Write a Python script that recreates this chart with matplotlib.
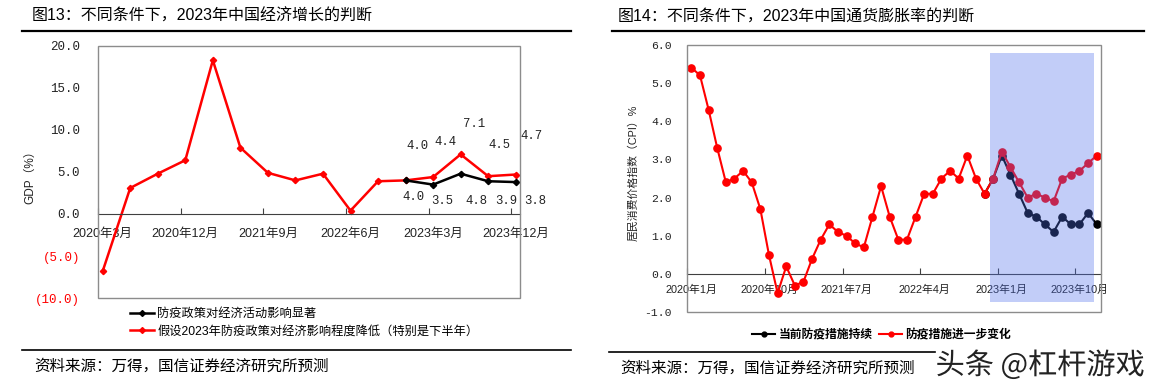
import matplotlib
matplotlib.use('Agg')
import matplotlib.pyplot as plt
import numpy as np
from matplotlib.lines import Line2D
from matplotlib.patches import Rectangle
import matplotlib.patheffects as pe

nan = np.nan

# ---------------- Data: Figure 13 (GDP, quarterly) ----------------
gdp_quarters = ['2020年3月', '2020年6月', '2020年9月', '2020年12月',
                '2021年3月', '2021年6月', '2021年9月', '2021年12月',
                '2022年3月', '2022年6月', '2022年9月', '2022年12月',
                '2023年3月', '2023年6月', '2023年9月', '2023年12月']
gdp_lowered = [-6.8, 3.1, 4.8, 6.4, 18.3, 7.9, 4.9, 4.0,
               4.8, 0.4, 3.9, 4.0, 4.4, 7.1, 4.5, 4.7]
gdp_significant = [nan, nan, nan, nan, nan, nan, nan, nan,
                   nan, nan, nan, 4.0, 3.5, 4.8, 3.9, 3.8]
gdp_tick_labels = ['2020年3月', '2020年12月', '2021年9月', '2022年6月', '2023年3月', '2023年12月']
gdp_yticks = [-10, -5, 0, 5, 10, 15, 20]
gdp_series_names = ['防疫政策对经济活动影响显著', '假设2023年防疫政策对经济影响程度降低（特别是下半年）']

# ---------------- Data: Figure 14 (CPI, monthly) ----------------
cpi_months = [f'{y}年{m}月' for y in (2020, 2021, 2022, 2023) for m in range(1, 13)]
cpi_change = [5.4, 5.2, 4.3, 3.3, 2.4, 2.5, 2.7, 2.4, 1.7, 0.5, -0.5, 0.2,
              -0.3, -0.2, 0.4, 0.9, 1.3, 1.1, 1.0, 0.8, 0.7, 1.5, 2.3, 1.5,
              0.9, 0.9, 1.5, 2.1, 2.1, 2.5, 2.7, 2.5, 3.1, 2.5, 2.1, 2.5,
              3.2, 2.8, 2.4, 2.0, 2.1, 2.0, 1.9, 2.5, 2.6, 2.7, 2.9, 3.1]
cpi_current = [nan] * 34 + [2.1, 2.5,
                            3.1, 2.6, 2.1, 1.6, 1.5, 1.3, 1.1, 1.5, 1.3, 1.3, 1.6, 1.3]
cpi_tick_labels = ['2020年1月', '2020年10月', '2021年7月', '2022年4月', '2023年1月', '2023年10月']
cpi_yticks = [-1, 0, 1, 2, 3, 4, 5, 6]
cpi_series_names = ['当前防疫措施持续', '防疫措施进一步变化']

# ---------------- Figure ----------------
W, H = 1155, 387
fig = plt.figure(figsize=(W / 100, H / 100), dpi=100)
fig.patch.set_facecolor('white')

CJK = ['Liberation Sans', 'Noto Sans CJK SC']
MONO = ['Liberation Mono', 'Noto Sans CJK SC']
plt.rcParams['font.family'] = CJK


def fx(px):
    return px / W


def fy(py):
    return 1 - py / H


def hline(x0, x1, y, lw):
    fig.add_artist(Line2D([fx(x0), fx(x1)], [fy(y), fy(y)], color='black', lw=lw))


# titles, rules, sources
fig.text(fx(32), fy(16.5), '图13：不同条件下，2023年中国经济增长的判断', fontsize=11.5,
         family=CJK, va='center', ha='left', weight='medium')
fig.text(fx(618), fy(16.5), '图14：不同条件下，2023年中国通货膨胀率的判断', fontsize=11.5,
         family=CJK, va='center', ha='left', weight='medium')
hline(22, 571, 31, 1.6)
hline(612, 1144, 31, 1.6)
hline(22, 571, 350, 1.2)
hline(609, 935, 352, 1.2)
fig.text(fx(34), fy(366), '资料来源：万得，国信证券经济研究所预测', fontsize=11.2,
         family=CJK, va='center', ha='left')
fig.text(fx(620), fy(368), '资料来源：万得，国信证券经济研究所预测', fontsize=11.2,
         family=CJK, va='center', ha='left')
fig.text(fx(1040), fy(366), '头条 @杠杆游戏', fontsize=21, family=['Noto Sans CJK SC'],
         color='#222222', va='center', ha='center', weight='light',
         path_effects=[pe.withStroke(linewidth=3, foreground='white')])

# ---------------- Left chart ----------------
ax1 = fig.add_axes([fx(98.3), fy(298), fx(520) - fx(98.3), (298 - 46) / H])
x1 = np.arange(len(gdp_quarters))
ax1.plot(x1, gdp_significant, color='black', lw=1.8, marker='D', ms=3.2, zorder=3)
ax1.plot(x1, gdp_lowered, color='#FF0000', lw=1.8, marker='D', ms=3.2, zorder=2)
ax1.set_xlim(-0.134, 15.156)
ax1.set_ylim(-10, 20)

for s in ['left', 'right', 'top']:
    ax1.spines[s].set_visible(False)
ax1.spines['bottom'].set_position(('data', 0))
ax1.spines['bottom'].set_color('#404040')
ax1.add_patch(Rectangle((0, 0), 1, 1, transform=ax1.transAxes, fill=False,
                        ec='#8c8c8c', lw=1.0, clip_on=False, zorder=5))

tick_idx1 = [gdp_quarters.index(t) for t in gdp_tick_labels]
ax1.set_xticks([i - 0.16 for i in tick_idx1])
ax1.set_xticklabels([''] * len(tick_idx1))
ax1.set_xticks(tick_idx1, minor=True)
ax1.set_xticklabels(gdp_tick_labels, minor=True, fontsize=9, family=CJK, color='#222222')
ax1.tick_params(axis='x', which='major', direction='in', length=4, color='#404040')
ax1.tick_params(axis='x', which='minor', length=0, pad=10)

ax1.set_yticks(gdp_yticks)
ax1.set_yticklabels([f'({abs(v):.1f})' if v < 0 else f'{v:.1f}' for v in gdp_yticks],
                    fontsize=9, family=MONO)
for lab, v in zip(ax1.get_yticklabels(), gdp_yticks):
    lab.set_color('#FF0000' if v < 0 else '#222222')
ax1.tick_params(axis='y', length=0, pad=13)
ax1.set_ylabel('GDP（%）', fontsize=8.5, family=CJK, color='#222222')
ax1.yaxis.set_label_coords((fx(36.5) - fx(98.3)) / ax1.get_position().width, 0.49)

red_off = [(12, 34), (12, 35), (13, 30), (11.5, 31), (16, 39)]
blk_off = [(8, -17), (9, -16), (16, -27), (18, -20), (20, -19)]
fi = 11
for k, (o1, o2) in enumerate(zip(red_off, blk_off)):
    i = fi + k
    ax1.annotate(f'{gdp_lowered[i]:.1f}', (i, gdp_lowered[i]), xytext=o1,
                 textcoords='offset pixels', ha='center', va='center',
                 fontsize=8.8, family=MONO, color='#222222', annotation_clip=False)
    ax1.annotate(f'{gdp_significant[i]:.1f}', (i, gdp_significant[i]), xytext=o2,
                 textcoords='offset pixels', ha='center', va='center',
                 fontsize=8.8, family=MONO, color='#222222', annotation_clip=False)

h1 = [Line2D([], [], color='black', lw=1.8, marker='D', ms=3),
      Line2D([], [], color='#FF0000', lw=1.8, marker='D', ms=3)]
fig.legend(h1, gdp_series_names, loc='upper left', bbox_to_anchor=(fx(130), fy(308)),
           frameon=False, borderpad=0, borderaxespad=0, handlelength=1.95,
           handletextpad=0.3, labelspacing=0.45,
           prop={'family': CJK, 'size': 8.8})

# ---------------- Right chart ----------------
ax2 = fig.add_axes([fx(687.3), fy(312.3), fx(1101) - fx(687.3), (312.3 - 44.7) / H])
x2 = np.arange(len(cpi_months))
ax2.plot(x2, cpi_current, color='black', lw=1.5, marker='o', ms=5.2, zorder=2)
ax2.plot(x2, cpi_change, color='#FF0000', lw=1.5, marker='o', ms=5.2, zorder=3)
first_fc = 35
ax2.axvspan(first_fc - 0.33, len(cpi_months) - 1.32, ymin=0.04, ymax=0.97,
            color='#4C6DEB', alpha=0.34, lw=0, zorder=4)
ax2.set_xlim(-0.43, 47.5)
ax2.set_ylim(-1, 6)

for s in ['left', 'right', 'top']:
    ax2.spines[s].set_visible(False)
ax2.spines['bottom'].set_position(('data', 0))
ax2.spines['bottom'].set_color('#404040')
ax2.add_patch(Rectangle((0, 0), 1, 1, transform=ax2.transAxes, fill=False,
                        ec='#8c8c8c', lw=1.0, clip_on=False, zorder=5))

tick_idx2 = [cpi_months.index(t) for t in cpi_tick_labels]
ax2.set_xticks([i - 0.47 for i in tick_idx2])
ax2.set_xticklabels([''] * len(tick_idx2))
ax2.set_xticks(tick_idx2, minor=True)
ax2.set_xticklabels(cpi_tick_labels, minor=True, fontsize=7.8, family=CJK, color='#222222')
ax2.tick_params(axis='x', which='major', direction='in', length=4, color='#404040')
ax2.tick_params(axis='x', which='minor', length=0, pad=8)

ax2.set_yticks(cpi_yticks)
ax2.set_yticklabels([f'{v:.1f}' for v in cpi_yticks], fontsize=8.2, family=MONO, color='#222222')
ax2.tick_params(axis='y', length=0, pad=11)
ax2.set_ylabel('居民消费价格指数（CPI）%', fontsize=7.8, family=CJK, color='#222222')
ax2.yaxis.set_label_coords((fx(639) - fx(687.3)) / ax2.get_position().width, 0.52)

h2 = [Line2D([], [], color='black', lw=1.5, marker='o', ms=3.5),
      Line2D([], [], color='#FF0000', lw=1.5, marker='o', ms=3.5)]
fig.legend(h2, cpi_series_names, loc='upper left', bbox_to_anchor=(fx(752), fy(329)),
           ncol=2, frameon=False, borderpad=0, borderaxespad=0, handlelength=1.95,
           handletextpad=0.3, columnspacing=0.55,
           prop={'family': CJK, 'size': 8.5, 'weight': 'bold'})

fig.savefig('out.png', dpi=100, facecolor='white')
